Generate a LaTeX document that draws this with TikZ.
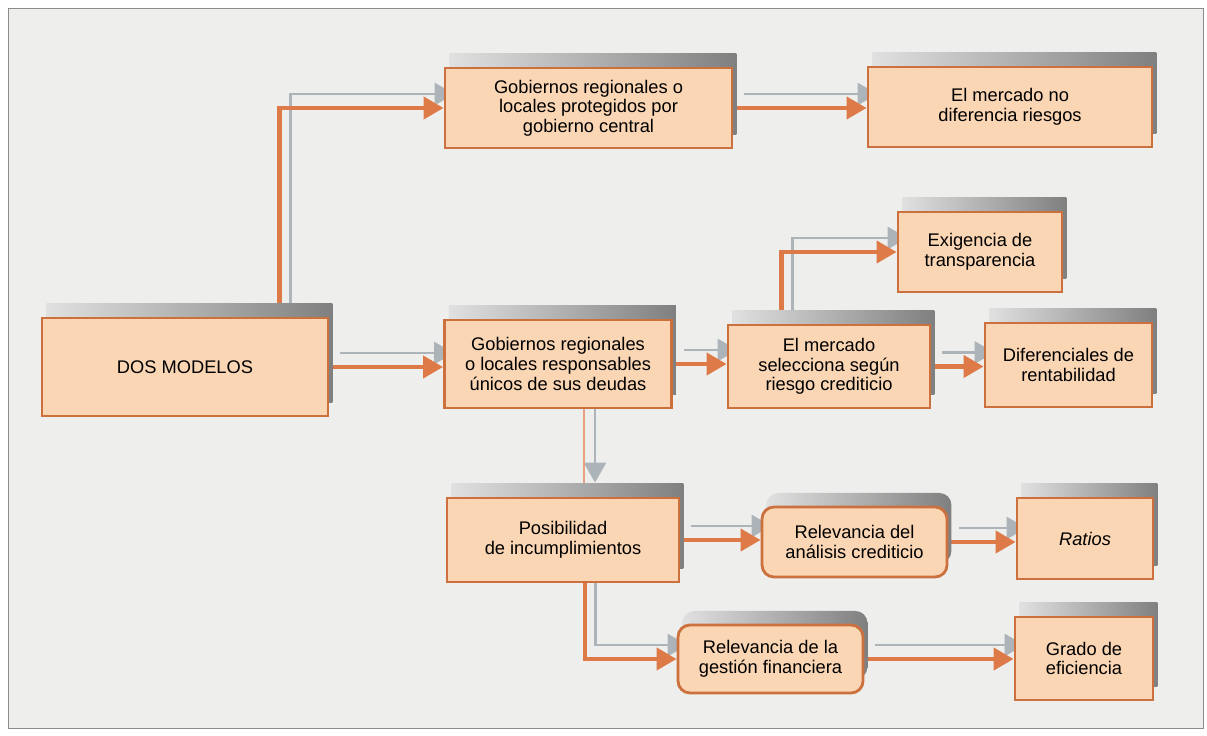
\documentclass[tikz,border=0pt]{standalone}
\usepackage{fontspec}
\setmainfont{Liberation Sans}
\usepackage{xcolor}
\usepackage{tikz}
\usetikzlibrary{arrows.meta}
\usetikzlibrary{shadows}
\usetikzlibrary{backgrounds}

\definecolor{boxfill}{RGB}{250,214,180}
\definecolor{boxline}{RGB}{204,112,62}
\definecolor{arrorange}{RGB}{222,122,72}
\definecolor{arrgray}{RGB}{172,180,185}
\definecolor{panel}{RGB}{238,239,237}

\begin{document}
\begin{tikzpicture}[x=0.025cm, y=-0.025cm,
    box/.style={rectangle, draw=boxline, line width=2pt, fill=boxfill, align=center, inner sep=0,
      font=\fontsize{13}{14}\selectfont,
      general shadow={shadow xshift=0.11cm, shadow yshift=0.35cm, left color=black!12, right color=black!50}},
    roundbox/.style={box, rounded corners=0.3cm},
    link/.style={draw=arrorange, line width=3pt, -{Triangle[length=0.5cm, width=0.55cm]}},
    linkshade/.style={draw=arrgray, line width=2pt, -{Triangle[length=0.5cm, width=0.55cm]},
      transform canvas={xshift=0.275cm, yshift=0.35cm}}]
        \useasboundingbox (0,0) rectangle (1207,735);

        \node [box, minimum width=7.15cm, minimum height=2.45cm] (dos) at (185,367) {DOS MODELOS};
        \node [box, minimum width=7.175cm, minimum height=2cm] (prot) at (588.5,108) {Gobiernos regionales o\\locales protegidos por\\gobierno central};
        \node [box, minimum width=7.1cm, minimum height=2cm] (nodif) at (1010,107) {El mercado no\\diferencia riesgos};
        \node [box, minimum width=4.1cm, minimum height=2cm] (exig) at (980,252) {Exigencia de\\transparencia};
        \node [box, minimum width=5.675cm, minimum height=2.2cm] (resp) at (558,364) {Gobiernos regionales\\o locales responsables\\únicos de sus deudas};
        \node [box, minimum width=5.05cm, minimum height=2.075cm] (selec) at (829,366.5) {El mercado\\selecciona según\\riesgo crediticio};
        \node [box, minimum width=4.175cm, minimum height=2.1cm] (difer) at (1068.5,365) {Diferenciales de\\rentabilidad};
        \node [box, minimum width=5.8cm, minimum height=2.1cm] (posib) at (563,540) {Posibilidad\\de incumplimientos};
        \node [roundbox, minimum width=4.625cm, minimum height=1.75cm] (anal) at (854.5,542) {Relevancia del\\análisis crediticio};
        \node [box, minimum width=3.4cm, minimum height=2.025cm] (ratios) at (1085,538.5) {\textit{Ratios}};
        \node [roundbox, minimum width=4.625cm, minimum height=1.7cm] (gest) at (770.5,659) {Relevancia de la\\gestión financiera};
        \node [box, minimum width=3.45cm, minimum height=2.075cm] (grado) at (1084,658.5) {Grado de\\eficiencia};

        \begin{scope}[on background layer]
          \draw [draw=black!45, fill=panel] (8,8) rectangle (1203,728);

          \foreach \a/\b in {dos/resp, prot/nodif, resp/selec, selec/difer, posib/anal, anal/ratios, gest/grado} {
            \draw [linkshade] (\a.east) -- (\a.east -| \b.west);
            \draw [link] (\a.east) -- (\a.east -| \b.west);
          }

          \draw [linkshade] ([xshift=-1.25cm]dos.north east) |- (prot.west);
          \draw [link] ([xshift=-1.25cm]dos.north east) |- (prot.west);
          \draw [linkshade] ([xshift=1.375cm]selec.north west) |- (exig.west);
          \draw [link] ([xshift=1.375cm]selec.north west) |- (exig.west);
          \draw [linkshade] ([xshift=3.475cm]posib.south west) |- (gest.west);
          \draw [link] ([xshift=3.475cm]posib.south west) |- (gest.west);

          \draw [linkshade] ([xshift=0.65cm]resp.south) -- ([xshift=0.65cm]resp.south |- posib.north);
          \draw [draw=arrorange!70, line width=2pt] ([xshift=0.65cm]resp.south) -- ([xshift=0.65cm]resp.south |- posib.north);
        \end{scope}
      \end{tikzpicture}
\end{document}
